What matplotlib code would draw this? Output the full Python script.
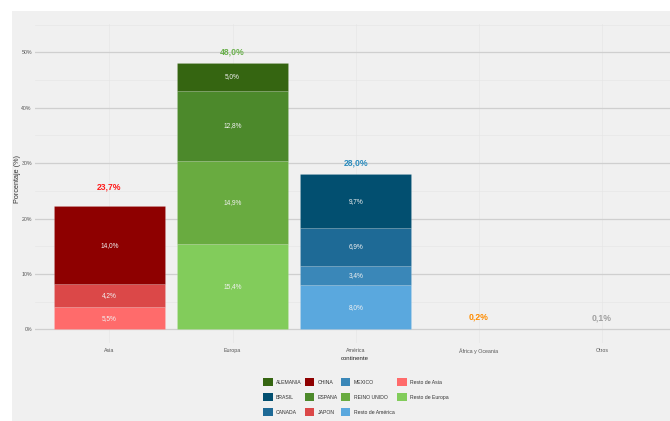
import numpy as np
import matplotlib.pyplot as plt
from matplotlib.patches import Rectangle, Patch

plt.rcParams['font.family'] = ['Liberation Sans', 'DejaVu Sans']

# data
continents = ['Asia', 'Europa', 'América', 'África y Oceania', 'Otros']
totals = [23.7, 48.0, 28.0, 0.2, 0.1]
total_labels = ['23,7%', '48,0%', '28,0%', '0,2%', '0,1%']
total_colors = ['#ff1a1a', '#6ab04c', '#2b8cbe', '#ff8c00', '#a0a0a0']

# segments, bottom to top for each continent
asia_names = ['Resto de Asia', 'JAPON', 'CHINA']
asia_values = [4.0, 4.2, 14.0]
asia_labels = ['5,5%', '4,2%', '14,0%']

europa_names = ['Resto de Europa', 'REINO UNIDO', 'ESPANA', 'ALEMANIA']
europa_values = [15.4, 14.9, 12.8, 5.0]
europa_labels = ['15,4%', '14,9%', '12,8%', '5,0%']

america_names = ['Resto de América', 'MEXICO', 'CANADA', 'BRASIL']
america_values = [8.0, 3.4, 6.9, 9.7]
america_labels = ['8,0%', '3,4%', '6,9%', '9,7%']

colors = {
    'ALEMANIA': '#356511',
    'BRASIL': '#024f70',
    'CANADA': '#1e6a96',
    'CHINA': '#8e0000',
    'ESPANA': '#4c892b',
    'JAPON': '#db4848',
    'MEXICO': '#3a87b8',
    'REINO UNIDO': '#69ab40',
    'Resto de América': '#5aa8de',
    'Resto de Asia': '#ff6b6b',
    'Resto de Europa': '#82cc5b',
}

W, H = 670, 421
fig = plt.figure(figsize=(W / 100, H / 100), dpi=100, facecolor='white')
fig.patches.append(Rectangle((12 / W, 0), 1, 1 - 11 / H, transform=fig.transFigure,
                             facecolor='#f0f0f0', edgecolor='none', zorder=-5))

ax_l, ax_r, ax_t, ax_b = 35.4, 670, 23.5, 342.6
ax = fig.add_axes([ax_l / W, 1 - ax_b / H, (ax_r - ax_l) / W, (ax_b - ax_t) / H])
ax.set_facecolor('#f0f0f0')
ax.set_zorder(2)

x = np.arange(1, len(continents) + 1)
stacks = [(asia_names, asia_values, asia_labels),
          (europa_names, europa_values, europa_labels),
          (america_names, america_values, america_labels)]

for xi, (names, vals, labs) in zip(x, stacks):
    bottom = 0
    for n, v, lab in zip(names, vals, labs):
        ax.bar(xi, v, bottom=bottom, width=0.9, color=colors[n],
               edgecolor=(1, 1, 1, 0.12), linewidth=0.6, zorder=3)
        ax.text(xi, bottom + v / 2, lab, ha='center', va='center',
                fontsize=4.7, color='#f2f2f2', zorder=4)
        bottom += v

for xi, t, lab, c in zip(x, totals, total_labels, total_colors):
    ax.text(xi, t + 2, lab, ha='center', va='center', fontsize=6.2,
            fontweight='bold', color=c, zorder=4)

ax.set_xlim(0.4, 0.4 + (ax_r - ax_l) / 123.2)
ax.set_ylim(-2.4, 55.2)
ax.set_xticks(x)
ax.set_xticklabels(continents)
ax.set_yticks([0, 10, 20, 30, 40, 50])
ax.set_yticklabels(['0%', '10%', '20%', '30%', '40%', '50%'])
ax.set_yticks([5, 15, 25, 35, 45, 55], minor=True)
ax.tick_params(axis='both', which='both', length=0, labelsize=3.8,
               labelcolor='#555555')
ax.tick_params(axis='x', pad=4)
ax.tick_params(axis='y', pad=2.5)
ax.grid(axis='y', which='major', color='#cfcfcf', linewidth=0.9, zorder=1)
ax.grid(axis='y', which='minor', color='#e6e6e6', linewidth=0.5, zorder=1)
ax.grid(axis='x', which='major', color='#e6e6e6', linewidth=0.5, zorder=1)
ax.set_axisbelow(True)
for s in ax.spines.values():
    s.set_visible(False)

fig.text(355 / W, 1 - 359 / H, 'continente', ha='center', va='center',
         fontsize=4.3, color='#222222')
fig.text(17.3 / W, 1 - 179 / H, 'Porcentaje (%)', ha='center', va='center',
         rotation=90, fontsize=5.2, color='#333333')

handles = [Patch(facecolor=c, edgecolor='none') for c in colors.values()]
leg = fig.legend(handles, list(colors.keys()), ncol=4, loc='center',
                 bbox_to_anchor=(356 / W, 1 - 397 / H), frameon=False,
                 fontsize=3.7, handlelength=1.9, handleheight=1.9,
                 handletextpad=0.6, columnspacing=0.6, labelspacing=1.45,
                 borderpad=0)
for t in leg.get_texts():
    t.set_color('#333333')

fig.savefig('out.png', dpi=100, facecolor=fig.get_facecolor())
